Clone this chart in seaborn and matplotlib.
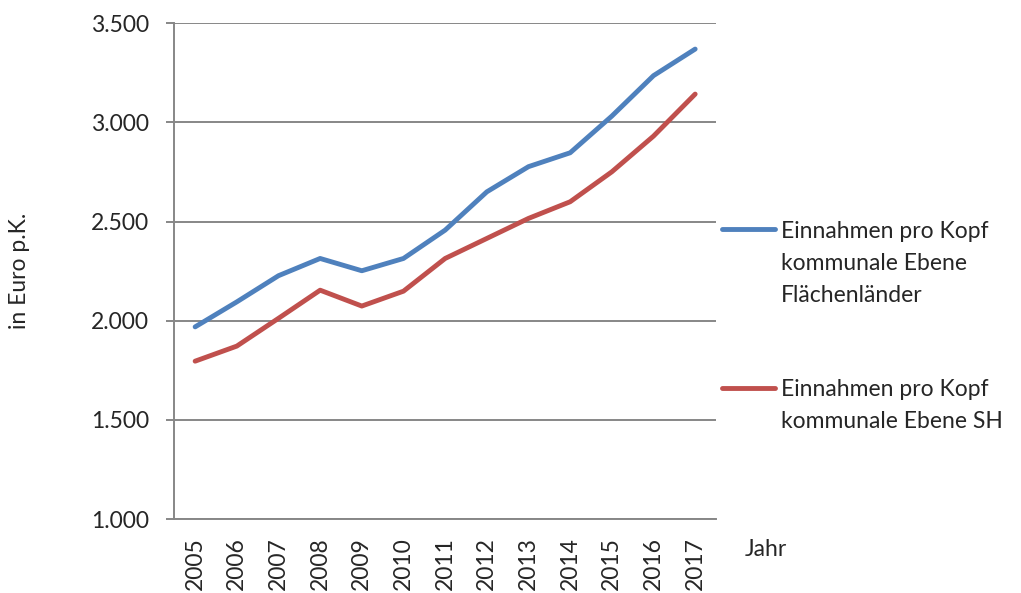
import matplotlib
matplotlib.use("Agg")
import matplotlib.pyplot as plt
from matplotlib.lines import Line2D
import matplotlib.ticker as mticker
import numpy as np
import pandas as pd
import seaborn as sns

years = [2005, 2006, 2007, 2008, 2009, 2010, 2011, 2012, 2013, 2014, 2015, 2016, 2017]
flaechen = [1969, 2095, 2227, 2314, 2252, 2314, 2457, 2650, 2777, 2847, 3032, 3236, 3370]
sh = [1796, 1872, 2012, 2154, 2074, 2149, 2314, 2415, 2516, 2600, 2751, 2931, 3143]
labels = ["Einnahmen pro Kopf\nkommunale Ebene\nFlächenländer",
          "Einnahmen pro Kopf\nkommunale Ebene SH"]
colors = ["#4F81BD", "#C0504D"]
yticks = [1000, 1500, 2000, 2500, 3000, 3500]

df = pd.DataFrame({
    "Jahr": years * 2,
    "Wert": flaechen + sh,
    "Reihe": [labels[0]] * len(years) + [labels[1]] * len(years),
})

sns.set_style("white")
plt.rcParams["font.family"] = ["Lato", "DejaVu Sans"]
fs = 16.5
grey = "#878787"
W, H = 1021, 593

fig = plt.figure(figsize=(10.21, 5.93), dpi=100)
ax = fig.add_axes([174.3 / W, 1 - 519 / H, (716 - 174.3) / W, (519 - 23.3) / H])

sns.lineplot(data=df, x="Jahr", y="Wert", hue="Reihe", palette=colors,
             linewidth=3.5, legend=False, ax=ax, solid_capstyle="round")

ax.set_ylim(1000, 3500)
ax.set_yticks(yticks)
ax.yaxis.set_major_formatter(mticker.FuncFormatter(lambda v, p: f"{int(v):,}".replace(",", ".")))
ax.yaxis.grid(True, color=grey, linewidth=1.4)
ax.set_axisbelow(True)

ax.set_xlim(years[0] - 0.5, years[-1] + 0.5)
ax.set_xticks(years)
ax.set_xticklabels([str(y) for y in years], rotation=90)
ax.set_xticks(np.arange(years[0] - 0.5, years[-1] + 1, 1), minor=True)
ax.tick_params(axis="x", which="major", length=0, labelsize=fs, pad=13)
ax.tick_params(axis="x", which="minor", length=6, width=1.4, color=grey, direction="out")
ax.tick_params(axis="y", which="major", length=6, width=1.4, color=grey, labelsize=fs, pad=12, left=True)

for s in ["top", "right"]:
    ax.spines[s].set_visible(False)
for s in ["left", "bottom"]:
    ax.spines[s].set_color(grey)
    ax.spines[s].set_linewidth(1.4)

ax.set_xlabel("")
ax.set_ylabel("")
fig.text(19 / W, 1 - 271 / H, "in Euro p.K.", fontsize=fs, rotation=90, ha="center", va="center")
fig.text(745 / W, 1 - 548 / H, "Jahr", fontsize=fs, va="center_baseline", ha="left")

# legend drawn beside the plot like the original
leg_y = [229, 388]
for c, lab, yy in zip(colors, labels, leg_y):
    fig.add_artist(Line2D([722 / W, 775 / W], [1 - yy / H, 1 - yy / H], color=c, linewidth=3.5,
                          solid_capstyle="round", transform=fig.transFigure))
    for i, line in enumerate(lab.split("\n")):
        fig.text(781 / W, 1 - (yy + 32 * i) / H, line, fontsize=fs, va="center_baseline", ha="left")

fig.savefig("out.png", dpi=100)
